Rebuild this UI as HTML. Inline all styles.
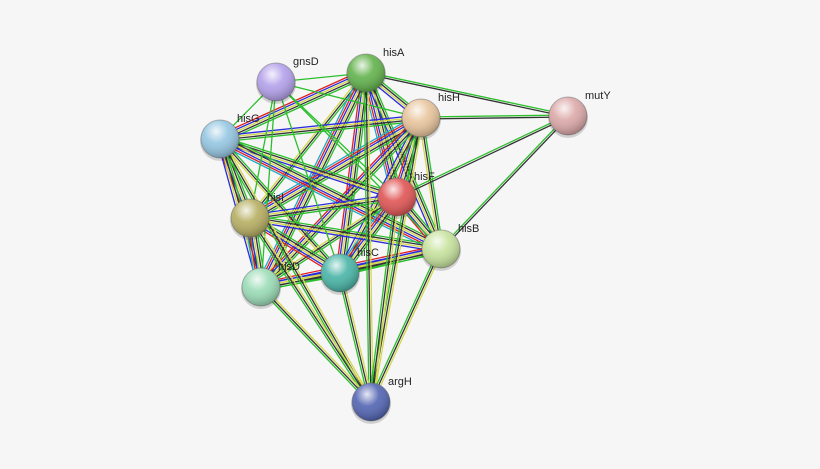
<!DOCTYPE html>
<html><head><meta charset="utf-8"><style>
html,body{margin:0;padding:0;background:#f6f6f6;}
svg{display:block}
text{font-family:"Liberation Sans",sans-serif;font-size:11px;fill:#222;}
</style></head><body>
<svg id="s" width="820" height="469" xmlns="http://www.w3.org/2000/svg">
<rect width="820" height="469" fill="#f6f6f6"/>
<defs>
<radialGradient id="hl" cx="0.4" cy="0.3" r="0.7">
<stop offset="0" stop-color="#fff" stop-opacity="0.85"/>
<stop offset="0.45" stop-color="#fff" stop-opacity="0.1"/>
<stop offset="1" stop-color="#000" stop-opacity="0.25"/>
</radialGradient>
</defs>
<g id="edges"></g>
<g id="nodes"></g>
</svg>
<script>
var N={gnsD:[276,82,'#b3a0ea'],hisA:[366,73,'#62b24c'],hisH:[421,118,'#e8c49c'],mutY:[568,116,'#dca8a8'],
hisG:[220,139,'#94c6e2'],hisF:[397,197,'#e05454'],hisI:[250,218,'#b6ae62'],hisB:[441,249,'#c6e29c'],
hisC:[340,273,'#48b4a6'],hisD:[261,287,'#9adcb6'],argH:[371,402,'#5264b2']};
var his=['hisA','hisH','hisG','hisF','hisI','hisB','hisC','hisD'];
var E=[];
function add(a,b,c){E.push([a,b,c]);}
var full=['#2bbf2b','#333','#d4d84a','#2b2bdd','#e02020','#22aacc','#cc33cc'];
for(var i=0;i<his.length;i++)for(var j=i+1;j<his.length;j++){
 var k=(i*3+j)%4; add(his[i],his[j],full.slice(0,3+k));}
['hisA','hisH','hisF','hisB'].forEach(function(n){add(n,'mutY',['#2bbf2b','#333']);});
his.forEach(function(n){add('gnsD',n,['#2bbf2b']);});
his.forEach(function(n){add('argH',n,['#2bbf2b','#333','#d4d84a']);});
var s='';
E.forEach(function(e){var A=N[e[0]],B=N[e[1]];var dx=B[0]-A[0],dy=B[1]-A[1],L=Math.hypot(dx,dy);
var px=-dy/L,py=dx/L,n=e[2].length;
e[2].forEach(function(c,i){var o=(i-(n-1)/2)*2;
s+='<line x1="'+(A[0]+px*o)+'" y1="'+(A[1]+py*o)+'" x2="'+(B[0]+px*o)+'" y2="'+(B[1]+py*o)+'" stroke="'+c+'" stroke-width="1.3"/>';});});
document.getElementById('edges').innerHTML=s;
var t='';
for(var k in N){var p=N[k];
t+='<circle cx="'+p[0]+'" cy="'+(p[1]+2)+'" r="20" fill="#000" opacity="0.15"/>';
t+='<circle cx="'+p[0]+'" cy="'+p[1]+'" r="19" fill="'+p[2]+'" stroke="#666" stroke-opacity="0.5"/>';
t+='<circle cx="'+p[0]+'" cy="'+p[1]+'" r="19" fill="url(#hl)"/>';
t+='<text x="'+(p[0]+17)+'" y="'+(p[1]-17)+'">'+k+'</text>';}
document.getElementById('nodes').innerHTML=t;
</script>
</body></html>
